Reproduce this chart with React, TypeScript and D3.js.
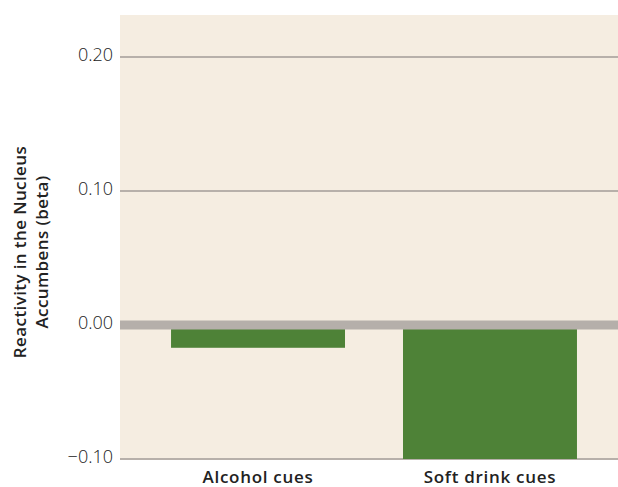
import React, { useEffect, useRef } from 'react';
import * as d3 from 'd3';

const categories = ['Alcohol cues', 'Soft drink cues'];
const values = [-0.017, -0.1];
const tickValues = [-0.1, 0, 0.1, 0.2];

const App: React.FC = () => {
  const svgRef = useRef<SVGSVGElement | null>(null);

  useEffect(() => {
    if (!svgRef.current) return;
    const svg = d3.select(svgRef.current);
    svg.selectAll('*').remove();

    const width = 618;
    const left = 120;
    const top = 15;
    const bottom = 459;
    const font = "'Open Sans', sans-serif";

    const y = d3.scaleLinear().domain([-0.1, 0.2]).range([bottom, 57]);
    const x = d3.scaleBand<string>()
      .domain(categories)
      .range([left, 628])
      .paddingInner(0.25)
      .paddingOuter(0.22);

    // Plot background
    svg.append('rect')
      .attr('x', left)
      .attr('y', top)
      .attr('width', width - left)
      .attr('height', bottom - top)
      .attr('fill', '#f5ede1');

    // Gridlines
    svg.append('g')
      .selectAll('line')
      .data(tickValues.filter(d => d !== 0))
      .join('line')
      .attr('x1', left)
      .attr('x2', width)
      .attr('y1', d => y(d))
      .attr('y2', d => y(d))
      .attr('stroke', '#b7b0aa')
      .attr('stroke-width', 2);

    // Bars
    svg.append('g')
      .selectAll('rect')
      .data(values)
      .join('rect')
      .attr('x', (_, i) => x(categories[i])!)
      .attr('width', x.bandwidth())
      .attr('y', d => y(Math.max(0, d)))
      .attr('height', d => Math.abs(y(d) - y(0)))
      .attr('fill', '#4e8237');

    // Zero band
    svg.append('rect')
      .attr('x', left)
      .attr('width', width - left)
      .attr('y', y(0) - 4.5)
      .attr('height', 9)
      .attr('fill', '#b5afaa');

    // Tick labels
    svg.append('g')
      .selectAll('text')
      .data(tickValues)
      .join('text')
      .attr('x', 113)
      .attr('y', d => y(d) - 2)
      .attr('dy', '0.36em')
      .attr('text-anchor', 'end')
      .attr('font-family', font)
      .attr('font-size', 18)
      .attr('font-weight', 300)
      .attr('fill', '#222')
      .text(d => (d < 0 ? '\u2212' : '') + d3.format('.2f')(Math.abs(d)));

    // Category labels
    svg.append('g')
      .selectAll('text')
      .data(categories)
      .join('text')
      .attr('x', d => x(d)! + x.bandwidth() / 2)
      .attr('y', 483)
      .attr('text-anchor', 'middle')
      .attr('font-family', font)
      .attr('font-size', 17)
      .attr('font-weight', 600)
      .attr('letter-spacing', 0.7)
      .attr('fill', '#222')
      .text(d => d);

    // Y axis title
    const title = svg.append('text')
      .attr('transform', 'translate(0,252) rotate(-90)')
      .attr('text-anchor', 'middle')
      .attr('font-family', font)
      .attr('font-size', 17)
      .attr('font-weight', 600)
      .attr('letter-spacing', 0.4)
      .attr('fill', '#222');
    title.append('tspan').attr('x', 0).attr('y', 26).text('Reactivity in the Nucleus');
    title.append('tspan').attr('x', 0).attr('y', 48).text('Accumbens (beta)');
  }, []);

  return (
    <div style={{ position: 'absolute', left: 0, top: 0 }}>
      <svg ref={svgRef} width={618} height={487} style={{ display: 'block' }} />
    </div>
  );
};

export default App;
